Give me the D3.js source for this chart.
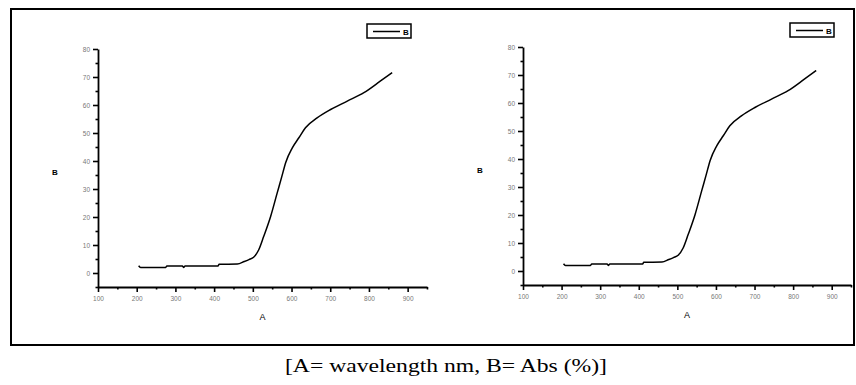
<!DOCTYPE html>
<html>
<head>
<meta charset="utf-8">
<script src="https://cdn.jsdelivr.net/npm/d3@7"></script>
<style>
  body { margin: 0; background: #fff; }
  svg { display: block; }
</style>
</head>
<body>
<svg id="fig" width="856" height="385"></svg>
<script>
// wavelength (nm) vs absorbance (%)
const wavelength = [205, 210, 275, 278, 318, 321, 325, 410, 413, 460, 478, 490, 502, 515, 528, 546, 563, 575, 585, 602, 619, 636, 666, 701, 744, 787, 830, 860];
const absorbance = [2.6, 2.0, 2.0, 2.5, 2.5, 2.0, 2.5, 2.5, 3.1, 3.2, 4.1, 4.8, 5.6, 8.2, 13.0, 20.2, 28.6, 34.5, 39.5, 44.7, 48.3, 51.9, 55.4, 58.4, 61.4, 64.4, 68.6, 71.6];

const xTicks = [100, 200, 300, 400, 500, 600, 700, 800, 900];
const xTickLabels = ['100', '200', '300', '400', '500', '600', '700', '800', '900'];
const xMinor = [150, 250, 350, 450, 550, 650, 750, 850, 950];
const yTicks = [0, 10, 20, 30, 40, 50, 60, 70, 80];
const yTickLabels = ['0', '10', '20', '30', '40', '50', '60', '70', '80'];
const yMinor = [-5, 5, 15, 25, 35, 45, 55, 65, 75];

const seriesName = 'B';
const xTitle = 'A';
const yTitle = 'B';
const caption = '[A= wavelength nm, B= Abs (%)]';

const svg = d3.select('#fig');

// outer frame
svg.append('rect')
  .attr('x', 11).attr('y', 9)
  .attr('width', 843).attr('height', 336)
  .attr('fill', 'none')
  .attr('stroke', '#000')
  .attr('stroke-width', 2);

function drawChart(left, right, top, bottom, legendX, legendY) {
  const g = svg.append('g');

  const x = d3.scaleLinear().domain([100, 950]).range([left, right]);
  const y = d3.scaleLinear().domain([-5, 80]).range([bottom, top]);

  // minor ticks
  g.append('g')
    .attr('transform', 'translate(0,' + bottom + ')')
    .call(d3.axisBottom(x).tickValues(xMinor).tickSize(2.5).tickFormat(''))
    .call(a => a.select('.domain').remove());
  g.append('g')
    .attr('transform', 'translate(' + left + ',0)')
    .call(d3.axisLeft(y).tickValues(yMinor).tickSize(2.5).tickFormat(''))
    .call(a => a.select('.domain').remove());

  // major ticks
  const xAxis = g.append('g')
    .attr('transform', 'translate(0,' + bottom + ')')
    .call(d3.axisBottom(x).tickValues(xTicks).tickSize(5).tickSizeOuter(0)
      .tickFormat((d, i) => xTickLabels[i]));
  const yAxis = g.append('g')
    .attr('transform', 'translate(' + left + ',0)')
    .call(d3.axisLeft(y).tickValues(yTicks).tickSize(5).tickSizeOuter(0)
      .tickFormat((d, i) => yTickLabels[i]));

  g.selectAll('.domain').attr('stroke-width', 1.8);
  g.selectAll('.tick line').attr('stroke-width', 1.6);
  g.selectAll('.tick text')
    .style('font-family', 'Liberation Sans, Arial, sans-serif')
    .style('font-size', '6.5px')
    .attr('fill', '#777');
  xAxis.selectAll('.tick text').attr('dy', '0.9em');
  yAxis.selectAll('.tick text').attr('x', -8);

  // axis titles
  g.append('text')
    .attr('x', (left + right) / 2)
    .attr('y', bottom + 33)
    .attr('text-anchor', 'middle')
    .style('font-family', 'Liberation Sans, Arial, sans-serif')
    .style('font-size', '9px')
    .text(xTitle);
  g.append('text')
    .attr('x', left - 43)
    .attr('y', (top + bottom) / 2 + 7)
    .attr('text-anchor', 'middle')
    .style('font-family', 'Liberation Sans, Arial, sans-serif')
    .style('font-size', '8px')
    .style('font-weight', 'bold')
    .text(yTitle);

  // curve
  const line = d3.line()
    .x((d, i) => x(wavelength[i]))
    .y(d => y(d))
    .curve(d3.curveMonotoneX);
  g.append('path')
    .datum(absorbance)
    .attr('d', line)
    .attr('fill', 'none')
    .attr('stroke', '#000')
    .attr('stroke-width', 1.5);

  // legend
  const lg = g.append('g').attr('transform', 'translate(' + legendX + ',' + legendY + ')');
  lg.append('rect')
    .attr('width', 44).attr('height', 14)
    .attr('fill', '#fff')
    .attr('stroke', '#000')
    .attr('stroke-width', 1.5);
  lg.append('line')
    .attr('x1', 6).attr('x2', 33)
    .attr('y1', 7.5).attr('y2', 7.5)
    .attr('stroke', '#000')
    .attr('stroke-width', 1.5);
  lg.append('text')
    .attr('x', 36).attr('y', 10.5)
    .style('font-family', 'Liberation Sans, Arial, sans-serif')
    .style('font-size', '8px')
    .style('font-weight', 'bold')
    .text(seriesName);
}

drawChart(98, 427, 49, 287, 367, 24);
drawChart(523, 851, 47, 285, 790, 23);

// caption, stretched a little wider as in the scan
svg.append('text')
  .attr('x', 285)
  .attr('y', 372)
  .attr('textLength', 322)
  .attr('lengthAdjust', 'spacingAndGlyphs')
  .style('font-family', 'Liberation Serif, Times New Roman, serif')
  .style('font-size', '19px')
  .text(caption);
</script>
</body>
</html>
